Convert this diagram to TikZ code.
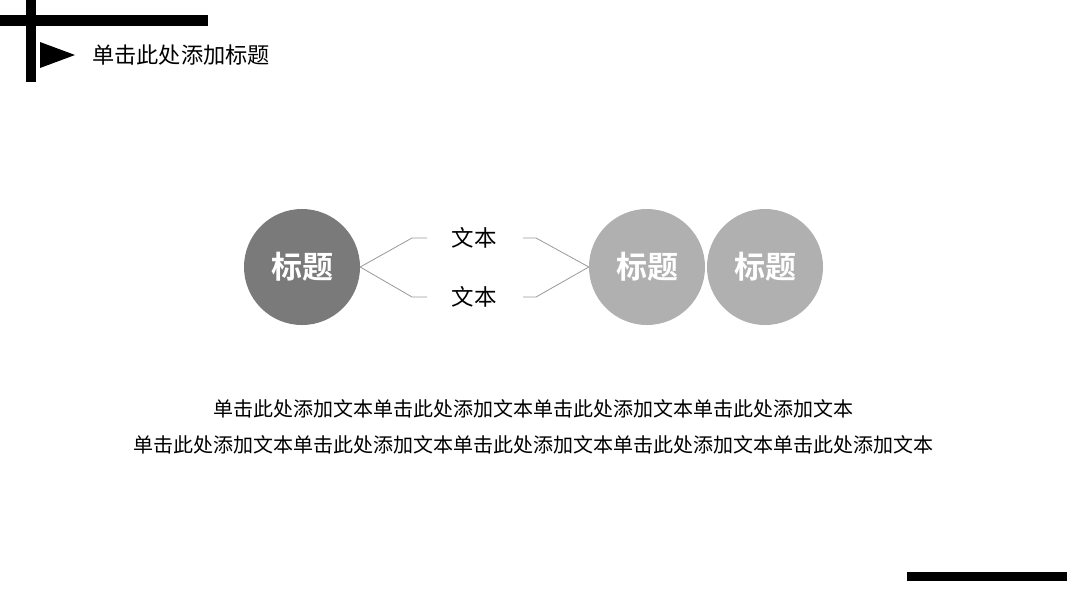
\documentclass[tikz,border=0pt]{standalone}
\usepackage{fontspec}
\newfontfamily\cjk{Noto Sans CJK SC}
\newfontfamily\cjkb{Noto Sans CJK SC Bold}
\begin{document}
\begin{tikzpicture}[x=1pt,y=-1pt,
  bar/.style={fill=black,draw=none},
  darkcircle/.style={circle,fill=black!52,minimum size=116pt,inner sep=0pt,text=white,font=\cjkb\fontsize{31}{34}\selectfont},
  lightcircle/.style={circle,fill=black!31,minimum size=116pt,inner sep=0pt,text=white,font=\cjkb\fontsize{31}{34}\selectfont},
  conn/.style={draw=black!40,line width=0.8pt},
  lbl/.style={font=\cjk\fontsize{22.5}{25}\selectfont,inner sep=0pt},
  body/.style={font=\cjk\fontsize{20}{23}\selectfont,inner sep=0pt}]
\useasboundingbox (0,0) rectangle (1067,600);
\fill[white] (0,0) rectangle (1067,600);
% decorations
\fill[bar] (0,15) rectangle (208,26);
\fill[bar] (26,0) rectangle (36,82);
\fill[bar] (40,42) -- (75,55) -- (40,68) -- cycle;
\fill[bar] (907,572) rectangle (1067,581);
\node[anchor=west,font=\cjk\fontsize{22.2}{25}\selectfont,inner sep=0pt] (title) at (92,55) {单击此处添加标题};
% circles
\node[darkcircle] (c1) at (302,267) {标题};
\node[lightcircle] (c2) at (647,267) {标题};
\node[lightcircle] (c3) at (765,267) {标题};
% labels
\node[lbl] (t1) at (474,238) {文本};
\node[lbl] (t2) at (474,297) {文本};
% connectors
\coordinate (a1) at (412,238);
\coordinate (a2) at (427,238);
\coordinate (b1) at (412,297);
\coordinate (b2) at (427,297);
\coordinate (d1) at (523,238);
\coordinate (d2) at (536,238);
\coordinate (e1) at (523,297);
\coordinate (e2) at (536,297);
\draw[conn] (c1.east) -- (a1) -- (a2);
\draw[conn] (c1.east) -- (b1) -- (b2);
\draw[conn] (d1) -- (d2) -- (c2.west);
\draw[conn] (e1) -- (e2) -- (c2.west);
% body text
\node[body] (l1) at (533,409) {单击此处添加文本单击此处添加文本单击此处添加文本单击此处添加文本};
\node[body] (l2) at (533,445) {单击此处添加文本单击此处添加文本单击此处添加文本单击此处添加文本单击此处添加文本};
\end{tikzpicture}
\end{document}
